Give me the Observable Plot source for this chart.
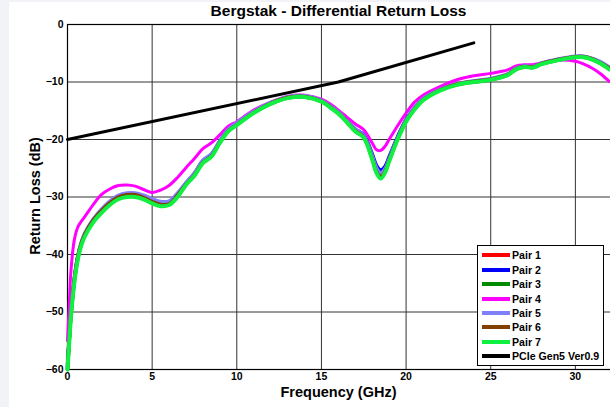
<!DOCTYPE html>
<html>
<head>
<meta charset="utf-8">
<script src="https://cdn.jsdelivr.net/npm/d3@7"></script>
<script src="https://cdn.jsdelivr.net/npm/@observablehq/plot@0.6"></script>
<style>
  html, body { margin: 0; padding: 0; background: #f2f3f7; }
  #wrap { position: relative; width: 610px; height: 407px; overflow: hidden; font-family: "Liberation Sans", Arial, sans-serif; }
  #paper { position: absolute; left: 9px; top: 2px; width: 601px; height: 405px; background: #fff; }
  #chart { position: absolute; left: 0; top: 0; }
  .title { position: absolute; top: 2px; left: 67px; width: 543px; text-align: center; font-weight: bold; font-size: 15.5px; color: #000; }
  .xlabel { position: absolute; top: 384px; left: 67px; width: 543px; text-align: center; font-weight: bold; font-size: 14.5px; color: #000; }
  .ylabel { position: absolute; left: 35px; top: 196px; transform: translate(-50%, -50%) rotate(-90deg); white-space: nowrap; font-weight: bold; font-size: 14.5px; color: #000; }
  #legend { position: absolute; left: 477px; top: 245px; width: 127px; height: 121px; border: 1px solid #000; background: #fff; box-sizing: border-box; padding-top: 2px; }
  .item { display: flex; align-items: center; height: 14.45px; font-weight: bold; font-size: 10.6px; color: #000; white-space: nowrap; }
  .sw { flex: none; width: 28px; height: 4px; margin-left: 4px; margin-right: 2px; }
</style>
</head>
<body>
<div id="wrap">
  <div id="paper"></div>
  <div id="chart"></div>
  <div class="title">Bergstak - Differential Return Loss</div>
  <div class="xlabel">Frequency (GHz)</div>
  <div class="ylabel">Return Loss (dB)</div>
  <div id="legend"></div>
</div>
<script>
const freq = [0,0.1,0.2,0.4,0.6,0.8,1,1.5,2,2.5,3,3.5,4,4.5,5,5.5,6,6.5,7,7.5,8,8.5,9,9.5,10,11,12,13,14,15,15.5,16,16.5,17,17.5,18,18.25,18.5,18.75,19,19.5,20,20.5,21,22,23,24,25,26,26.5,27,27.5,28,29,30,30.5,31,31.5,32];

const pair1 = [-59,-54.5,-50,-44.2,-40.4,-38.1,-36.6, -34.1,-32.4,-31.0,-30.1,-29.7,-29.7,-30.1,-30.8,-31.3,-31.1,-29.7,-27.7,-26.0,-23.8,-22.8,-20.4,-18.4,-17.3, -15.2,-13.7,-12.7,-12.5,-13.3, -14.2,-15.3,-16.8,-18.3,-19.4,-23.0, -25.3,-26.3,-25.4,-23.5,-19.8,-16.7,-14.6,-13.0, -11.4,-10.4,-9.9,-9.5,-8.7, -7.7,-7.3,-7.4,-6.8, -6.1,-5.6,-5.6,-6.0,-6.7,-7.6];
const pair2 = [-59.5,-54.8,-50.3,-44.5,-40.6,-38.3,-36.7, -34.2,-32.5,-31.0,-30.0,-29.6,-29.6,-30.0,-30.6,-31.0,-30.9,-29.5,-27.6,-25.9,-23.7,-22.6,-20.3,-18.3,-17.2, -15.2,-13.7,-12.7,-12.5,-13.3, -14.2,-15.2,-16.7,-18.2,-19.2,-22.5, -24.5,-25.3,-24.7,-23.0,-19.5,-16.5,-14.5,-12.9, -11.3,-10.4,-9.9,-9.5,-8.7, -7.7,-7.3,-7.4,-6.8, -6.1,-5.6,-5.6,-6.0,-6.6,-7.5];
const pair3 = [-60,-55.2,-50.8,-44.8,-40.8,-38.4,-36.8, -34.3,-32.6,-31.2,-30.2,-29.8,-29.8,-30.2,-30.9,-31.4,-31.2,-29.6,-27.7,-26.1,-23.9,-22.9,-20.5,-18.5,-17.4, -15.3,-13.8,-12.8,-12.6,-13.4, -14.3,-15.4,-16.9,-18.5,-19.6,-23.3, -25.7,-26.6,-25.7,-23.7,-19.9,-16.8,-14.7,-13.1, -11.4,-10.5,-10.0,-9.6,-8.8, -7.8,-7.4,-7.5,-6.9, -6.2,-5.7,-5.7,-6.1,-6.8,-7.7];
const pair4 = [-55,-49,-43,-37.5,-35.3,-34.3,-33.5, -31.4,-29.6,-28.6,-28.0,-27.9,-28.1,-28.7,-29.2,-28.8,-28.0,-26.6,-24.9,-23.3,-21.6,-20.6,-19.2,-17.7,-16.9, -14.9,-13.5,-12.5,-12.3,-13.0, -13.8,-14.9,-16.1,-17.3,-18.3,-20.6, -21.8,-21.9,-21.2,-20.0,-17.6,-15.4,-13.5,-12.3, -10.8,-9.6,-8.9,-8.5,-7.9, -7.2,-7.0,-7.0,-6.7, -6.2,-6.4,-6.9,-7.6,-8.6,-9.9];
const pair5 = [-59.5,-54.6,-50.2,-44.3,-40.4,-38.0,-36.4, -33.9,-32.1,-30.7,-29.7,-29.3,-29.3,-29.7,-30.3,-30.8,-30.7,-29.3,-27.5,-25.8,-23.6,-22.5,-20.2,-18.2,-17.1, -15.1,-13.6,-12.6,-12.4,-13.2, -14.1,-15.2,-16.7,-18.2,-19.3,-22.8, -24.9,-25.8,-25.1,-23.3,-19.7,-16.6,-14.5,-12.9, -11.3,-10.3,-9.8,-9.4,-8.6, -7.6,-7.2,-7.3,-6.7, -6.0,-5.5,-5.5,-5.9,-6.5,-7.4];
const pair6 = [-60,-55,-50.6,-44.6,-40.6,-38.2,-36.6, -34.1,-32.4,-31.0,-30.0,-29.6,-29.6,-30.1,-30.8,-31.3,-31.2,-29.7,-27.8,-26.2,-24.0,-22.9,-20.5,-18.5,-17.4, -15.3,-13.7,-12.7,-12.5,-13.3, -14.3,-15.4,-16.9,-18.5,-19.6,-23.3, -25.6,-26.5,-25.6,-23.6,-19.9,-16.8,-14.7,-13.1, -11.4,-10.4,-9.9,-9.5,-8.7, -7.7,-7.3,-7.4,-6.8, -6.1,-5.6,-5.6,-6.0,-6.7,-7.6];
const pair7 = [-60,-55.5,-51,-45,-41,-38.6,-37, -34.5,-32.8,-31.4,-30.4,-30.0,-30.0,-30.4,-31.1,-31.6,-31.4,-30.0,-27.9,-26.3,-24.1,-23.0,-20.6,-18.6,-17.5, -15.4,-13.8,-12.8,-12.6,-13.4, -14.4,-15.5,-17.0,-18.6,-19.7,-23.5, -25.8,-26.8,-25.8,-23.8,-20.0,-16.9,-14.8,-13.2, -11.5,-10.5,-10.0,-9.6,-8.8, -7.8,-7.4,-7.5,-6.9, -6.2,-5.7,-5.7,-6.1,-6.8,-7.8];

const limitFreq = [0, 16, 24];
const limitDb = [-20, -10, -3.2];

const seriesNames = ["Pair 1","Pair 2","Pair 3","Pair 4","Pair 5","Pair 6","Pair 7"];
const seriesValues = [pair1, pair2, pair3, pair4, pair5, pair6, pair7];
const seriesColors = ["#ff0000","#0000ff","#008a00","#ff00ff","#8080ff","#804000","#10f040"];
const seriesWidths = [3.5, 3.5, 3.5, 3, 3.5, 3.5, 4];
const limitName = "PCIe Gen5 Ver0.9";

const xTicks = [0,5,10,15,20,25,30];
const yTicks = [-60,-50,-40,-30,-20,-10,0];

const lineMarks = seriesValues.map((vals, i) =>
  Plot.line(freq.map((f, j) => ({f, v: vals[j]})), {
    x: "f", y: "v", stroke: seriesColors[i], strokeWidth: seriesWidths[i], curve: "catmull-rom"
  })
);

const chart = Plot.plot({
  width: 610, height: 407,
  marginLeft: 67, marginRight: -5, marginTop: 24, marginBottom: 38,
  style: {background: "transparent", fontFamily: "'Liberation Sans', Arial, sans-serif", fontSize: "10.5px", fontWeight: "bold", color: "#000"},
  x: {domain: [0, 32.37], label: null},
  y: {domain: [-60, 0], label: null},
  marks: [
    Plot.gridX(xTicks, {stroke: "#333", strokeOpacity: 1, strokeWidth: 1}),
    Plot.gridY(yTicks, {stroke: "#333", strokeOpacity: 1, strokeWidth: 1}),
    Plot.frame({stroke: "#000", strokeWidth: 1.2}),
    Plot.axisX({ticks: xTicks, tickSize: 0, tickPadding: 3, label: null}),
    Plot.axisY({ticks: yTicks, tickSize: 0, tickPadding: 4, label: null}),
    ...lineMarks,
    Plot.line(limitFreq.map((f, j) => ({f, v: limitDb[j]})), {x: "f", y: "v", stroke: "#000", strokeWidth: 3})
  ]
});
document.getElementById("chart").appendChild(chart);

const legend = document.getElementById("legend");
const items = seriesNames.map((n, i) => [n, seriesColors[i]]).concat([[limitName, "#000"]]);
for (const [n, c] of items) {
  const d = document.createElement("div");
  d.className = "item";
  d.innerHTML = `<span class="sw" style="background:${c}"></span><span>${n}</span>`;
  legend.appendChild(d);
}
</script>
</body>
</html>
